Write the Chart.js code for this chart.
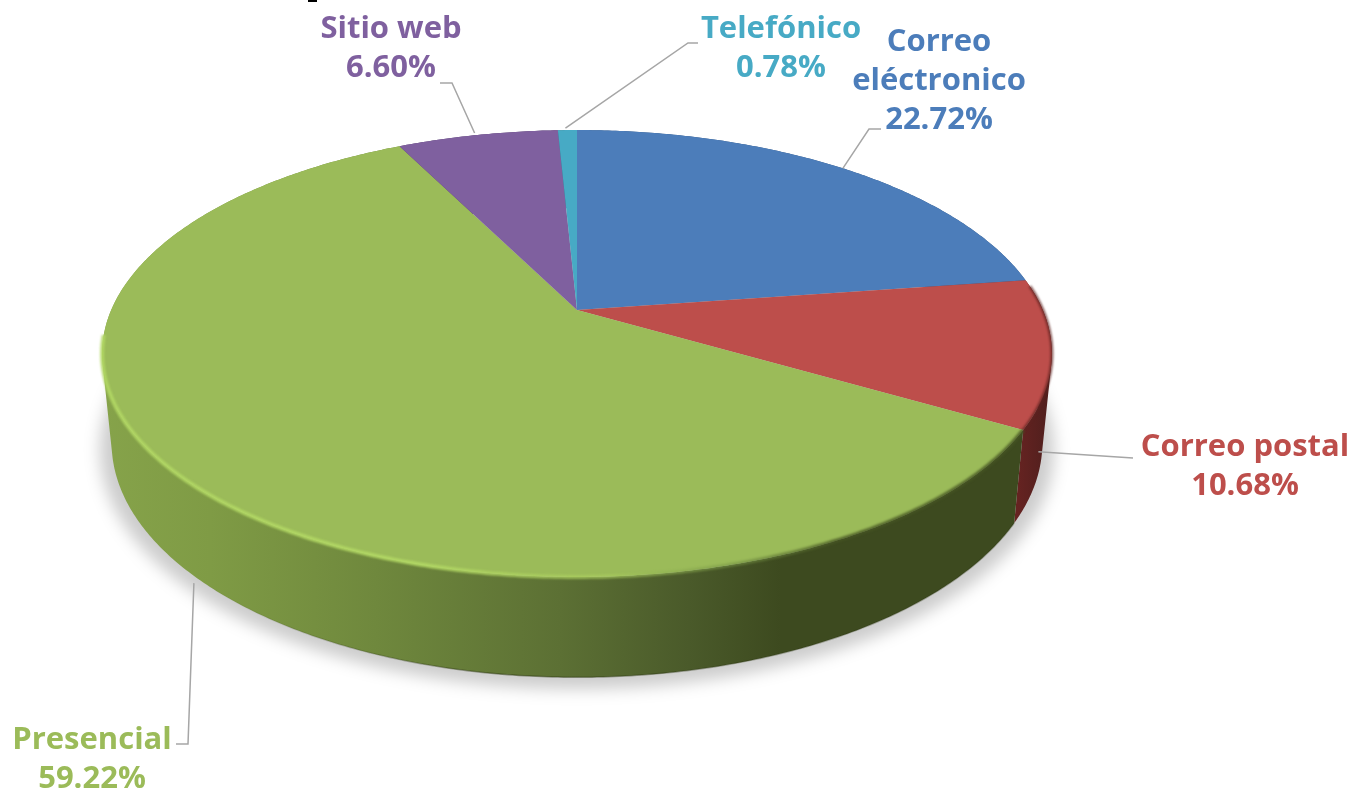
<!DOCTYPE html>
<html lang="es">
<head>
<meta charset="utf-8"/>
<title>Canales de atención</title>
<script src="https://cdn.jsdelivr.net/npm/chart.js"></script>
<style>
  html, body { margin: 0; padding: 0; background: #fff; overflow: hidden; }
  canvas { display: block; }
</style>
</head>
<body>
<canvas id="pie" width="1353" height="789"></canvas>
<script>
  const categories = ['Correo eléctronico', 'Correo postal', 'Presencial', 'Sitio web', 'Telefónico'];
  const shares = [22.72, 10.68, 59.22, 6.60, 0.78];
  const sliceColors = ['#4c7dba', '#bd4e4b', '#9bbb59', '#7f609f', '#47aac5'];

  // label lines and where each block is centred
  const labelLines = [['Correo', 'eléctronico', '22.72%'], ['Correo postal', '10.68%'], ['Presencial', '59.22%'], ['Sitio web', '6.60%'], ['Telefónico', '0.78%']];
  const labelCentres = [[939, 42], [1245, 447], [92, 740], [391, 29], [781, 29]];
  const labelGap = 39;

  // leader elbows, onBase = starts on the lower rim of the slab
  const leaders = [
    { slice: 0, onBase: false, nudge: [0, 0], elbow: [[869, 129], [881, 129]] },
    { slice: 1, onBase: true, nudge: [-4, 10], elbow: [[1133, 458]] },
    { slice: 2, onBase: true, nudge: [1, 8], elbow: [[188, 744], [176, 744]] },
    { slice: 3, onBase: false, nudge: [-3, -2], elbow: [[452, 83], [440, 83]] },
    { slice: 4, onBase: false, nudge: [-2, -2], elbow: [[688, 43], [698, 43]] }
  ];

  // tilted disc: apex, radii, perspective, then how the base differs from the top
  const disc = { cx: 577, cy: 310, rx: 465.8, ry: 215, tilt: -0.1946, baseX: 0.98, baseY: 1.05, baseCy: 397 };

  function topPoint(a) {
    const w = 1 + disc.tilt * Math.sin(a);
    return [disc.cx + disc.rx * Math.cos(a) / w, disc.cy + disc.ry * Math.sin(a) / w];
  }
  function basePoint(a) {
    const p = topPoint(a);
    return [disc.cx + disc.baseX * (p[0] - disc.cx), disc.baseCy + disc.baseY * (p[1] - disc.cy)];
  }
  function arcPoints(fn, a0, a1) {
    const n = Math.max(2, Math.ceil(Math.abs(a1 - a0) / 0.01));
    const pts = [];
    for (let i = 0; i <= n; i++) pts.push(fn(a0 + (a1 - a0) * i / n));
    return pts;
  }
  function trace(ctx, pts, close) {
    ctx.beginPath();
    pts.forEach((p, i) => i ? ctx.lineTo(p[0], p[1]) : ctx.moveTo(p[0], p[1]));
    if (close) ctx.closePath();
  }
  function hGradient(ctx, x0, x1, stops) {
    const g = ctx.createLinearGradient(x0, 0, x1, 0);
    stops.forEach(s => g.addColorStop(s[0], s[1]));
    return g;
  }
  function signedArea(q) {
    let s = 0;
    q.forEach((p, i) => {
      const n = q[(i + 1) % q.length];
      s += p[0] * n[1] - n[0] * p[1];
    });
    return s;
  }

  // the library lays out the slices, this draws them on the tilted slab
  const slabPlugin = {
    id: 'slab',
    beforeDatasetsDraw(chart) {
      const ctx = chart.ctx;
      const arcs = chart.getDatasetMeta(0).data;
      ctx.save();

      // soft shadow under the slab
      ctx.save();
      ctx.filter = 'blur(8px)';
      ctx.fillStyle = 'rgba(0,0,0,0.20)';
      ctx.translate(disc.cx, 397);
      ctx.scale(1.025, 1.02);
      ctx.translate(-disc.cx, -397 + 6);
      trace(ctx, arcPoints(basePoint, 0, Math.PI * 2), true);
      ctx.fill();
      ctx.restore();

      // side walls: all strips of a slice in one path, wound the same way so
      // the fold at the sides stays filled and no seams show
      const greenWall = hGradient(ctx, 100, 1020, [[0, '#86a34a'], [0.12, '#7f9b45'], [0.3, '#6f883d'], [0.5, '#5c7034'], [0.64, '#4a5a2a'], [0.74, '#3d4a1f'], [1, '#3d4a1f']]);
      const redWall = hGradient(ctx, 1010, 1050, [[0, '#6b2422'], [1, '#4f1f1d']]);
      const wallFill = ['#33557f', redWall, greenWall, '#56406c', '#2f7386'];
      arcs.forEach((arc, i) => {
        const top = arcPoints(topPoint, arc.startAngle, arc.endAngle);
        const base = arcPoints(basePoint, arc.startAngle, arc.endAngle);
        ctx.beginPath();
        for (let k = 0; k < top.length - 1; k++) {
          const q = [top[k], top[k + 1], base[k + 1], base[k]];
          if (signedArea(q) < 0) q.reverse();
          q.forEach((p, j) => j ? ctx.lineTo(p[0], p[1]) : ctx.moveTo(p[0], p[1]));
          ctx.closePath();
        }
        ctx.fillStyle = wallFill[i];
        ctx.fill();
      });

      // darker line along the foot of the wall
      ctx.save();
      ctx.filter = 'blur(0.7px)';
      ctx.strokeStyle = hGradient(ctx, 200, 800, [[0, 'rgba(40,50,15,0)'], [0.5, 'rgba(40,50,15,0.45)'], [1, 'rgba(40,50,15,0.3)']]);
      ctx.lineWidth = 1.5;
      trace(ctx, arcPoints(basePoint, arcs[2].startAngle, arcs[2].endAngle - 1.2), false);
      ctx.stroke();
      ctx.restore();

      // top faces
      arcs.forEach(arc => {
        const pts = [[disc.cx, disc.cy]].concat(arcPoints(topPoint, arc.startAngle, arc.endAngle));
        trace(ctx, pts, true);
        ctx.fillStyle = arc.options.backgroundColor;
        ctx.fill();
      });

      // bevel on the rim: bright on the lit side, dark on the far side
      ctx.save();
      ctx.filter = 'blur(1.2px)';
      ctx.lineWidth = 4;
      ctx.strokeStyle = hGradient(ctx, 100, 1020, [[0, 'rgba(178,216,100,0.9)'], [0.35, 'rgba(178,216,100,0.95)'], [0.55, 'rgba(170,205,95,0.7)'], [0.68, 'rgba(120,150,70,0.6)'], [0.8, 'rgba(70,85,35,0.8)'], [1, 'rgba(70,85,35,0.8)']]);
      trace(ctx, arcPoints(topPoint, arcs[2].startAngle, arcs[2].startAngle + 2.5), false);
      ctx.stroke();
      ctx.lineWidth = 3;
      ctx.strokeStyle = 'rgba(95,35,32,0.75)';
      trace(ctx, arcPoints(topPoint, arcs[1].startAngle + 0.03, arcs[1].endAngle), false);
      ctx.stroke();
      ctx.restore();

      ctx.restore();
      return false;
    },
    afterDraw(chart) {
      const ctx = chart.ctx;
      const arcs = chart.getDatasetMeta(0).data;
      ctx.save();

      // leader lines start at the middle of their slice
      ctx.strokeStyle = '#a6a6a6';
      ctx.lineWidth = 1.5;
      leaders.forEach(l => {
        const arc = arcs[l.slice];
        const mid = (arc.startAngle + arc.endAngle) / 2;
        const p = (l.onBase ? basePoint : topPoint)(mid);
        trace(ctx, [[p[0] + l.nudge[0], p[1] + l.nudge[1]]].concat(l.elbow), false);
        ctx.stroke();
      });

      // labels
      ctx.textAlign = 'center';
      ctx.textBaseline = 'middle';
      ctx.font = 'bold 31px "Open Sans"';
      labelLines.forEach((lines, i) => {
        ctx.fillStyle = sliceColors[i];
        lines.forEach((t, j) => ctx.fillText(t, labelCentres[i][0], labelCentres[i][1] + j * labelGap));
      });

      // small tick left on the top edge
      ctx.fillStyle = '#000';
      ctx.fillRect(308, 0, 9, 2);
      ctx.restore();
    }
  };

  new Chart(document.getElementById('pie'), {
    type: 'pie',
    data: {
      labels: categories,
      datasets: [{ data: shares, backgroundColor: sliceColors, borderWidth: 0 }]
    },
    options: {
      responsive: false,
      animation: false,
      plugins: { legend: { display: false }, tooltip: { enabled: false } }
    },
    plugins: [slabPlugin]
  });
</script>
</body>
</html>
